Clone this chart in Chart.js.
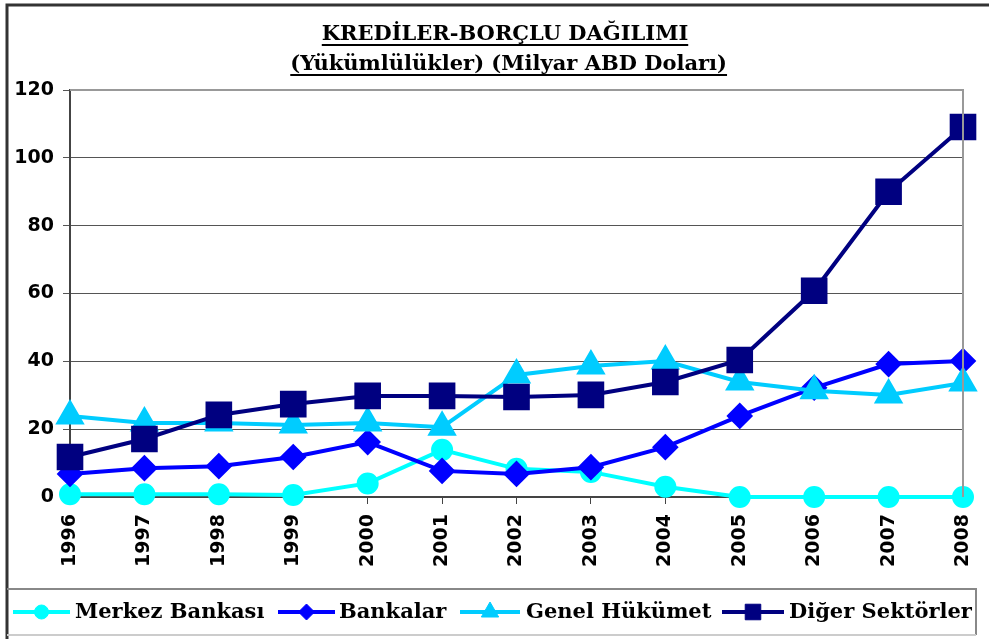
<!DOCTYPE html>
<html>
<head>
<meta charset="utf-8">
<script src="https://cdn.jsdelivr.net/npm/chart.js@4.4.0/dist/chart.umd.min.js"></script>
<style>
  html, body { margin: 0; padding: 0; background: #fff; }
  #wrap { width: 989px; height: 639px; }
</style>
</head>
<body>
<div id="wrap"><canvas id="myChart" width="989" height="639"></canvas></div>
<script>
// values (milyar ABD dolari)
var years = ["1996", "1997", "1998", "1999", "2000", "2001", "2002", "2003", "2004", "2005", "2006", "2007", "2008"];
var merkezBankasi = [0.8, 0.8, 0.8, 0.6, 4.0, 13.9, 8.3, 7.4, 3.0, 0, 0, 0, 0];
var bankalar = [6.8, 8.5, 9.1, 11.8, 16.2, 7.7, 6.8, 8.8, 14.7, 23.9, 32.2, 39.2, 40.1];
var genelHukumet = [23.9, 21.8, 21.8, 21.2, 21.8, 20.6, 36.0, 38.6, 40.1, 33.9, 31.3, 30.1, 33.6];
var digerSektorler = [11.8, 17.1, 24.2, 27.4, 29.8, 29.8, 29.5, 30.1, 33.9, 40.4, 60.8, 90.0, 109.1];
var seriesNames = ["Merkez Bankası", "Bankalar", "Genel Hükümet", "Diğer Sektörler"];
var titleLines = ["KREDİLER-BORÇLU DAĞILIMI", " (Yükümlülükler) (Milyar ABD Doları)"];
var yMin = 0, yMax = 120, yStep = 20;

var serifBold = "bold 21px 'DejaVu Serif'";

// legend entries: line segment, marker, text (x positions from the picture)
var legendItems = [
  { lineX: 13, lineW: 57, textX: 75, style: "circle", r: 7 },
  { lineX: 278, lineW: 57, textX: 339, style: "rectRot", r: 8 },
  { lineX: 460, lineW: 60, textX: 526, style: "triangle", r: 10 },
  { lineX: 722, lineW: 62, textX: 789, style: "rect", r: 11 }
];

var decor = {
  id: "decor",
  beforeDraw: function(chart) {
    var ctx = chart.ctx;
    ctx.save();
    ctx.fillStyle = "#fff";
    ctx.fillRect(0, 0, chart.width, chart.height);
    ctx.restore();
  },
  afterDraw: function(chart) {
    var ctx = chart.ctx;
    var a = chart.chartArea;
    ctx.save();

    // plot frame (top + right)
    ctx.strokeStyle = "#999";
    ctx.lineWidth = 2;
    ctx.beginPath();
    ctx.moveTo(a.left, a.top);
    ctx.lineTo(a.right, a.top);
    ctx.lineTo(a.right, a.bottom);
    ctx.stroke();

    // outer border (left + top only)
    ctx.strokeStyle = "#333";
    ctx.lineWidth = 3;
    ctx.beginPath();
    ctx.moveTo(7, chart.height);
    ctx.lineTo(7, 5);
    ctx.lineTo(chart.width + 5, 5);
    ctx.stroke();

    // title, underlined
    ctx.fillStyle = "#000";
    ctx.font = "bold 21px 'DejaVu Serif'";
    ctx.textAlign = "center";
    ctx.textBaseline = "alphabetic";
    var cx = 505;
    var ys = [40, 70];
    titleLines.forEach(function(t, i) {
      ctx.fillText(t, cx, ys[i]);
      var w = ctx.measureText(t.trim()).width;
      var shift = t.length != t.trim().length ? ctx.measureText(" ").width / 2 : 0;
      ctx.fillRect(cx - w / 2 + shift, ys[i] + 4, w, 2);
    });

    // legend box
    ctx.strokeStyle = "#888";
    ctx.lineWidth = 2;
    ctx.beginPath();
    ctx.moveTo(7, 589);
    ctx.lineTo(976, 589);
    ctx.lineTo(976, 635);
    ctx.stroke();
    ctx.strokeStyle = "#ccc";
    ctx.beginPath();
    ctx.moveTo(7, 635);
    ctx.lineTo(976, 635);
    ctx.stroke();

    var ly = 612;
    chart.data.datasets.forEach(function(ds, i) {
      var it = legendItems[i];
      ctx.strokeStyle = ds.borderColor;
      ctx.lineWidth = 4;
      ctx.beginPath();
      ctx.moveTo(it.lineX, ly);
      ctx.lineTo(it.lineX + it.lineW, ly);
      ctx.stroke();
      ctx.fillStyle = ds.pointBackgroundColor;
      ctx.strokeStyle = ds.pointBackgroundColor;
      ctx.lineWidth = 1;
      Chart.helpers.drawPoint(ctx, { pointStyle: it.style, radius: it.r, rotation: 0, borderWidth: 1 }, it.lineX + it.lineW / 2, ly);
      ctx.fillStyle = "#000";
      ctx.font = serifBold;
      ctx.textAlign = "left";
      ctx.textBaseline = "middle";
      ctx.fillText(ds.label, it.textX, ly + 1);
    });
    ctx.restore();
  }
};

function series(label, data, color, style, radius, order) {
  return {
    label: label,
    data: data,
    borderColor: color,
    backgroundColor: color,
    pointBackgroundColor: color,
    pointBorderColor: color,
    pointStyle: style,
    pointRadius: radius,
    pointHoverRadius: radius,
    borderWidth: 4,
    tension: 0,
    fill: false,
    clip: false,
    order: order
  };
}

var ctx = document.getElementById("myChart");
var chart = new Chart(ctx, {
  type: "line",
  data: {
    labels: years,
    datasets: [
      series(seriesNames[0], merkezBankasi, "#00FFFF", "circle", 9, 4),
      series(seriesNames[1], bankalar, "#0000FF", "rectRot", 10.5, 3),
      series(seriesNames[2], genelHukumet, "#00CCFF", "triangle", 13, 2),
      series(seriesNames[3], digerSektorler, "#000080", "rect", 16, 1)
    ]
  },
  options: {
    responsive: false,
    animation: false,
    layout: { padding: { top: 90, right: 26, left: 0, bottom: 0 } },
    plugins: {
      legend: { display: false },
      title: { display: false },
      tooltip: { enabled: false }
    },
    scales: {
      x: {
        offset: false,
        grid: { drawOnChartArea: false, drawTicks: true, tickLength: 7, color: "#444", lineWidth: 1 },
        border: { color: "#444", width: 2 },
        ticks: {
          maxRotation: 90,
          minRotation: 90,
          autoSkip: false,
          padding: 10,
          color: "#000",
          font: { family: "'DejaVu Sans'", size: 19, weight: "bold" }
        },
        afterFit: function(scale) {
          scale.height = 142;
          scale.paddingLeft = 0;
          scale.paddingRight = 0;
        }
      },
      y: {
        min: yMin,
        max: yMax,
        grid: { color: "#555", lineWidth: 1, tickLength: 7 },
        border: { color: "#444", width: 2 },
        ticks: {
          stepSize: yStep,
          padding: 9,
          color: "#000",
          font: { family: "'DejaVu Sans'", size: 19, weight: "bold" }
        },
        afterFit: function(scale) { scale.width = 70; }
      }
    }
  },
  plugins: [decor]
});
</script>
</body>
</html>
